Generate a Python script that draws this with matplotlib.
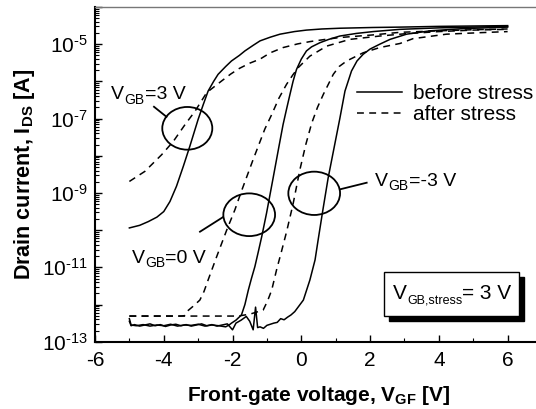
import numpy as np
import matplotlib
matplotlib.use('Agg')
import matplotlib.pyplot as plt
from matplotlib.patches import Ellipse, Rectangle
from matplotlib.ticker import MultipleLocator, LogLocator, FuncFormatter, NullFormatter

plt.rcParams['font.family'] = 'Liberation Sans'
plt.rcParams['axes.unicode_minus'] = False
plt.rcParams['mathtext.fontset'] = 'custom'
plt.rcParams['mathtext.rm'] = 'Liberation Sans'
plt.rcParams['mathtext.it'] = 'Liberation Sans:italic'
plt.rcParams['mathtext.bf'] = 'Liberation Sans:bold'

# Transfer curves, front-gate voltage [V] vs log10 of drain current [A]
# V_GB = 3 V
vgf_gb3_before = [-5.0, -4.7, -4.45, -4.2, -4.0, -3.82, -3.63, -3.43, -3.24, -3.09, -3.0,
                  -2.85, -2.71, -2.55, -2.42, -2.2, -2.03, -1.8, -1.64, -1.4, -1.2, -0.9,
                  -0.62, -0.2, 0.15, 0.6, 1.12, 2.08, 2.87, 4.0, 5.0, 6.0]
ids_gb3_before = [-9.94, -9.87, -9.77, -9.65, -9.50, -9.23, -8.82, -8.28, -7.74, -7.29, -7.02,
                  -6.62, -6.26, -6.0, -5.81, -5.6, -5.45, -5.30, -5.18, -5.03, -4.91, -4.81,
                  -4.73, -4.66, -4.62, -4.59, -4.57, -4.55, -4.54, -4.52, -4.51, -4.50]

vgf_gb3_after = [-5.0, -4.55, -4.06, -3.72, -3.38, -3.09, -2.75, -2.5, -2.32, -2.05, -1.8,
                 -1.5, -1.2, -0.9, -0.53, -0.1, 0.25, 0.7, 1.12, 2.08, 2.87, 4.0, 5.0, 6.0]
ids_gb3_after = [-8.69, -8.42, -7.97, -7.61, -7.16, -6.80, -6.30, -6.12, -5.99, -5.80, -5.65,
                 -5.51, -5.40, -5.23, -5.09, -4.99, -4.93, -4.87, -4.82, -4.75, -4.68, -4.64,
                 -4.61, -4.59]

# V_GB = 0 V
vgf_gb0_before = [-5.0, -4.95, -4.8, -4.6, -4.4, -4.2, -4.0, -3.8, -3.6, -3.4, -3.2, -3.0,
                  -2.8, -2.6, -2.4, -2.2, -2.1, -2.03, -1.9, -1.74, -1.64, -1.54, -1.45,
                  -1.35, -1.25, -1.15, -1.01, -0.82, -0.65, -0.53, -0.43, -0.33, -0.24,
                  -0.14, 0.0, 0.15, 0.3, 0.54, 0.8, 1.12, 1.6, 2.09, 2.87, 4.0, 5.0, 6.0]
ids_gb0_before = [-12.38, -12.55, -12.57, -12.54, -12.58, -12.55, -12.57, -12.53, -12.58,
                  -12.55, -12.56, -12.53, -12.58, -12.55, -12.57, -12.60, -12.55, -12.5,
                  -12.42, -12.28, -12.0, -11.61, -11.3, -10.98, -10.58, -10.17, -9.54,
                  -8.6, -7.75, -7.16, -6.75, -6.35, -6.0, -5.68, -5.4, -5.18, -5.07,
                  -4.96, -4.87, -4.78, -4.71, -4.66, -4.60, -4.56, -4.54, -4.52]

vgf_gb0_after = [-5.0, -4.5, -4.0, -3.5, -3.4, -3.33, -3.15, -2.95, -2.83, -2.71, -2.46,
                 -2.17, -1.93, -1.74, -1.4, -1.06, -0.86, -0.65, -0.43, -0.25, -0.09, 0.25,
                 0.74, 1.41, 2.28, 3.0, 4.0, 5.0, 6.0]
ids_gb0_after = [-12.31, -12.31, -12.31, -12.31, -12.30, -12.19, -12.05, -11.88, -11.65,
                 -11.34, -10.71, -10.0, -9.45, -8.95, -8.1, -7.28, -6.89, -6.45, -6.08,
                 -5.83, -5.63, -5.32, -5.05, -4.87, -4.78, -4.72, -4.66, -4.62, -4.60]

# V_GB = -3 V
vgf_gbm3_before = [-5.0, -4.95, -4.85, -4.7, -4.55, -4.4, -4.25, -4.1, -3.95, -3.8, -3.65,
                   -3.5, -3.35, -3.2, -3.05, -2.9, -2.75, -2.6, -2.45, -2.3, -2.15, -2.0,
                   -1.9, -1.75, -1.6, -1.5, -1.4, -1.33, -1.27, -1.2, -1.1, -1.0, -0.9,
                   -0.8, -0.7, -0.6, -0.5, -0.4, -0.3, -0.19, 0.06, 0.25, 0.40, 0.49, 0.62,
                   0.78, 0.95, 1.12, 1.27, 1.46, 1.62, 1.80, 2.0, 2.28, 2.58, 3.06, 3.74,
                   4.71, 6.0]
ids_gbm3_before = [-12.45, -12.57, -12.54, -12.58, -12.55, -12.52, -12.57, -12.54, -12.59,
                   -12.55, -12.53, -12.57, -12.54, -12.58, -12.55, -12.52, -12.57, -12.54,
                   -12.58, -12.55, -12.52, -12.68, -12.5, -12.42, -12.32, -12.45, -12.68,
                   -12.07, -12.62, -12.6, -12.64, -12.56, -12.53, -12.5, -12.48, -12.38,
                   -12.41, -12.34, -12.28, -12.19, -11.88, -11.34, -10.80, -10.26, -9.5,
                   -8.6, -7.8, -7.0, -6.26, -5.72, -5.45, -5.27, -5.13, -5.0, -4.87,
                   -4.73, -4.64, -4.58, -4.54]

vgf_gbm3_after = [-5.0, -4.0, -3.0, -2.0, -1.84, -1.5, -1.11, -0.98, -0.86, -0.72, -0.57,
                  -0.43, -0.24, -0.04, 0.13, 0.30, 0.47, 0.64, 0.93, 1.1, 1.32, 1.80, 2.28,
                  2.87, 3.25, 4.22, 5.19, 6.0]
ids_gbm3_after = [-12.31, -12.31, -12.31, -12.31, -12.31, -12.26, -12.15, -11.9, -11.61,
                  -11.07, -10.55, -10.05, -9.3, -8.37, -7.7, -7.13, -6.7, -6.35, -5.81,
                  -5.6, -5.45, -5.23, -5.09, -4.98, -4.85, -4.73, -4.69, -4.66]

fig = plt.figure(figsize=(5.36, 4.09), dpi=100)
ax = fig.add_axes([0.1772, 0.1645, 0.834, 0.8183])

dash = (0, (4.5, 3.5))
lw = 1.1
before = [(vgf_gb3_before, ids_gb3_before), (vgf_gb0_before, ids_gb0_before),
          (vgf_gbm3_before, ids_gbm3_before)]
after = [(vgf_gb3_after, ids_gb3_after), (vgf_gb0_after, ids_gb0_after),
         (vgf_gbm3_after, ids_gbm3_after)]
for v, i in before:
    h_before, = ax.plot(v, 10.0 ** np.array(i), color='black', lw=lw)
for v, i in after:
    h_after, = ax.plot(v, 10.0 ** np.array(i), color='black', lw=lw, ls=dash)

ax.set_yscale('log')
ax.set_xlim(-6, 7)
ax.set_ylim(1e-13, 1e-4)

ax.xaxis.set_major_locator(MultipleLocator(2))
ax.xaxis.set_minor_locator(MultipleLocator(1))
ax.yaxis.set_major_locator(LogLocator(base=10, numticks=20))
ax.yaxis.set_minor_locator(LogLocator(base=10, subs=np.arange(2, 10), numticks=20))
ax.yaxis.set_minor_formatter(NullFormatter())


def decade_label(val, pos):
    # only every second decade is labelled, with a plain hyphen in the exponent
    e = int(round(np.log10(val)))
    if e % 2 == 0:
        return ''
    return r'$\mathregular{10^{\text{-}%d}}$' % abs(e)


ax.yaxis.set_major_formatter(FuncFormatter(decade_label))
ax.tick_params(which='both', direction='in', top=False, right=False, labelsize=15)
ax.tick_params(which='major', length=5, width=1)
ax.tick_params(which='minor', length=3, width=0.8)
ax.tick_params(axis='x', pad=7)
ax.tick_params(axis='y', pad=5)

for side in ['left', 'bottom']:
    ax.spines[side].set_linewidth(1.5)
ax.spines['top'].set_linewidth(1.0)
ax.spines['top'].set_color('#777777')

ax.set_xlabel(r'Front-gate voltage, $\mathbf{V_{GF}}$ [V]', fontsize=15,
              fontweight='bold', labelpad=10)
ax.set_ylabel(r'Drain current, $\mathbf{I_{DS}}$ [A]', fontsize=15.5,
              fontweight='bold', labelpad=4)

ax.legend([h_before, h_after], ['before stress', 'after stress'], loc='center left',
          bbox_to_anchor=(0.5855, 0.7096), frameon=False, fontsize=15,
          borderpad=0, borderaxespad=0, handlelength=2.16, handletextpad=0.56,
          labelspacing=0.1)

# circles marking each pair of curves, with their leader lines
for cx, cy, w, h in [(0.2065, 0.6376, 0.1119, 0.1276),
                     (0.345, 0.3794, 0.1157, 0.1276),
                     (0.4904, 0.4434, 0.1157, 0.1294)]:
    ax.add_patch(Ellipse((cx, cy), w, h, transform=ax.transAxes, fill=False,
                         ec='black', lw=1.3))
for xs, ys in [((0.132, 0.160), (0.702, 0.672)),
               ((0.2349, 0.2857), (0.3287, 0.3717)),
               ((0.5481, 0.6078), (0.4553, 0.4751))]:
    ax.plot(xs, ys, color='black', lw=1.3, transform=ax.transAxes)


def v_label(x, y, sub, tail, size, subsize, drop):
    t = ax.text(x, y, 'V', fontsize=size, transform=ax.transAxes, va='baseline')
    s = ax.annotate(sub, xy=(1, 0), xycoords=t, xytext=(0.3, -drop),
                    textcoords='offset points', fontsize=subsize, va='bottom')
    ax.annotate(tail, xy=(1, 0), xycoords=s, xytext=(0, drop),
                textcoords='offset points', fontsize=size, va='bottom')


v_label(0.0358, 0.7251, 'GB', '=3 V', 14, 10, 2.5)
v_label(0.0821, 0.236, 'GB', '=0 V', 14, 10, 2.5)
v_label(0.6264, 0.4652, 'GB', '=-3 V', 14, 10, 2.5)

# stress condition box with drop shadow
ax.add_patch(Rectangle((0.6577, 0.0628), 0.302, 0.1315, transform=ax.transAxes,
                       fc='black', ec='black', zorder=4))
ax.add_patch(Rectangle((0.6465, 0.0777), 0.302, 0.1315, transform=ax.transAxes,
                       fc='white', ec='black', lw=1.0, zorder=5))
t = ax.text(0.6659, 0.1285, 'V', fontsize=15, transform=ax.transAxes, va='baseline',
            zorder=6)
s = ax.annotate('GB,stress', xy=(1, 0), xycoords=t, xytext=(0.3, -3),
                textcoords='offset points', fontsize=9, va='bottom', zorder=6)
ax.annotate('= 3 V', xy=(1, 0), xycoords=s, xytext=(0, 3),
            textcoords='offset points', fontsize=15, va='bottom', zorder=6)

fig.savefig('out.png', dpi=100)
